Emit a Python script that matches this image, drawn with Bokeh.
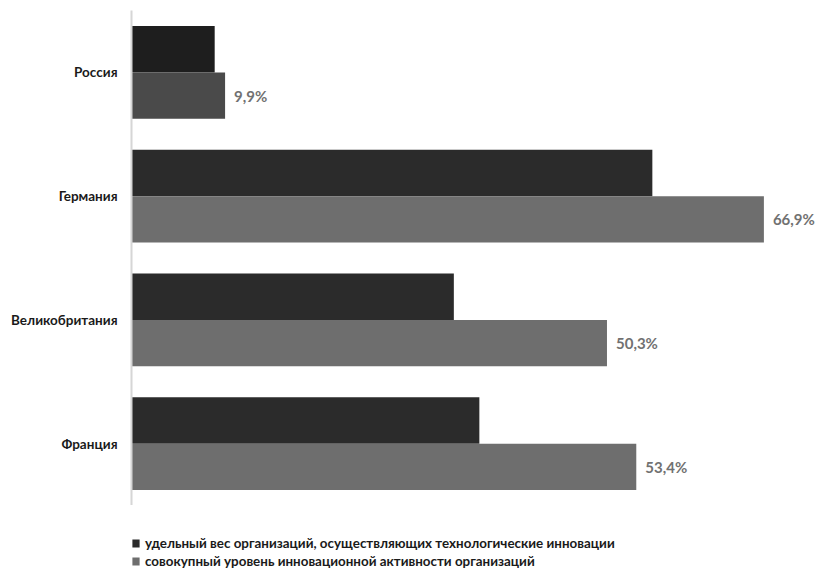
from bokeh.plotting import figure
from bokeh.layouts import column
from bokeh.models import ColumnDataSource, FactorRange, Range1d, Legend, LegendItem
from bokeh.transform import dodge
from bokeh.core.properties import value
from bokeh.embed import file_html
from bokeh.resources import INLINE

countries = ["Россия", "Германия", "Великобритания", "Франция"]
tech_share = [8.8, 55.1, 34.1, 36.8]
total_level = [9.9, 66.9, 50.3, 53.4]
dark_colors = ["#1e1e1e", "#2b2b2b", "#2b2b2b", "#2b2b2b"]
gray_colors = ["#4a4a4a", "#6e6e6e", "#6e6e6e", "#6e6e6e"]
series_names = [
    "удельный вес организаций, осуществляющих технологические инновации",
    "совокупный уровень инновационной активности организаций",
]
legend_colors = ["#2b2b2b", "#6e6e6e"]

labels = [f"{v:.1f}".replace(".", ",") + "%" for v in total_level]

src = ColumnDataSource(dict(
    country=countries, tech=tech_share, total=total_level,
    dark_col=dark_colors, gray_col=gray_colors, label=labels,
))

FONT = "Lato"

p = figure(
    width=822, height=505,
    y_range=FactorRange(*list(reversed(countries)), range_padding=0),
    x_range=Range1d(0, 73.1),
    output_backend="svg", toolbar_location=None,
    min_border_left=131, min_border_right=0, min_border_top=10, min_border_bottom=0,
)

p.hbar(y=dodge("country", 0.1875, range=p.y_range), right="tech", left=0,
       height=0.375, source=src, fill_color="dark_col", line_color=None)
p.hbar(y=dodge("country", -0.1875, range=p.y_range), right="total", left=0,
       height=0.375, source=src, fill_color="gray_col", line_color=None)

p.text(x="total", y=dodge("country", -0.1875, range=p.y_range), text="label", source=src,
       x_offset=9, text_baseline="middle", text_align="left",
       text_font=value(FONT), text_font_style="bold", text_font_size="15px",
       text_color="#717171")

p.xaxis.visible = False
p.xgrid.grid_line_color = None
p.ygrid.grid_line_color = None
p.outline_line_color = None

ya = p.yaxis[0]
ya.axis_line_color = "#d6d6d6"
ya.axis_line_width = 2
ya.major_tick_line_color = None
ya.minor_tick_line_color = None
ya.major_label_text_font = FONT
ya.major_label_text_font_style = "bold"
ya.major_label_text_font_size = "13.5px"
ya.major_label_text_color = "#1a1a1a"
ya.major_label_standoff = 8

# legend strip (zero-length proxy bars carry the legend swatches)
q = figure(
    width=822, height=66, x_range=Range1d(0, 1), y_range=FactorRange(*series_names),
    output_backend="svg", toolbar_location=None,
    min_border_left=0, min_border_right=0, min_border_top=0, min_border_bottom=0,
)
q.axis.visible = False
q.grid.grid_line_color = None
q.outline_line_color = None
rs = []
for i in range(len(series_names)):
    sub = ColumnDataSource(dict(name=[series_names[i]], zero=[0], col=[legend_colors[i]]))
    rs.append(q.hbar(y="name", left="zero", right="zero", height=0.1, source=sub,
                     fill_color="col", line_color=None))

legend = Legend(
    items=[LegendItem(label=n, renderers=[r], index=0) for n, r in zip(series_names, rs)],
    location=(0, 2),
    orientation="vertical",
    background_fill_alpha=0, border_line_color=None,
    padding=0, margin=0, spacing=2,
    glyph_width=9, glyph_height=10, label_height=14, label_standoff=5,
    label_text_font=FONT, label_text_font_style="bold",
    label_text_font_size="13.4px", label_text_color="#1a1a1a",
)
q.add_layout(legend, "center")

layout = column(p, q, spacing=0)
open("out.html", "w").write(file_html(layout, INLINE))
